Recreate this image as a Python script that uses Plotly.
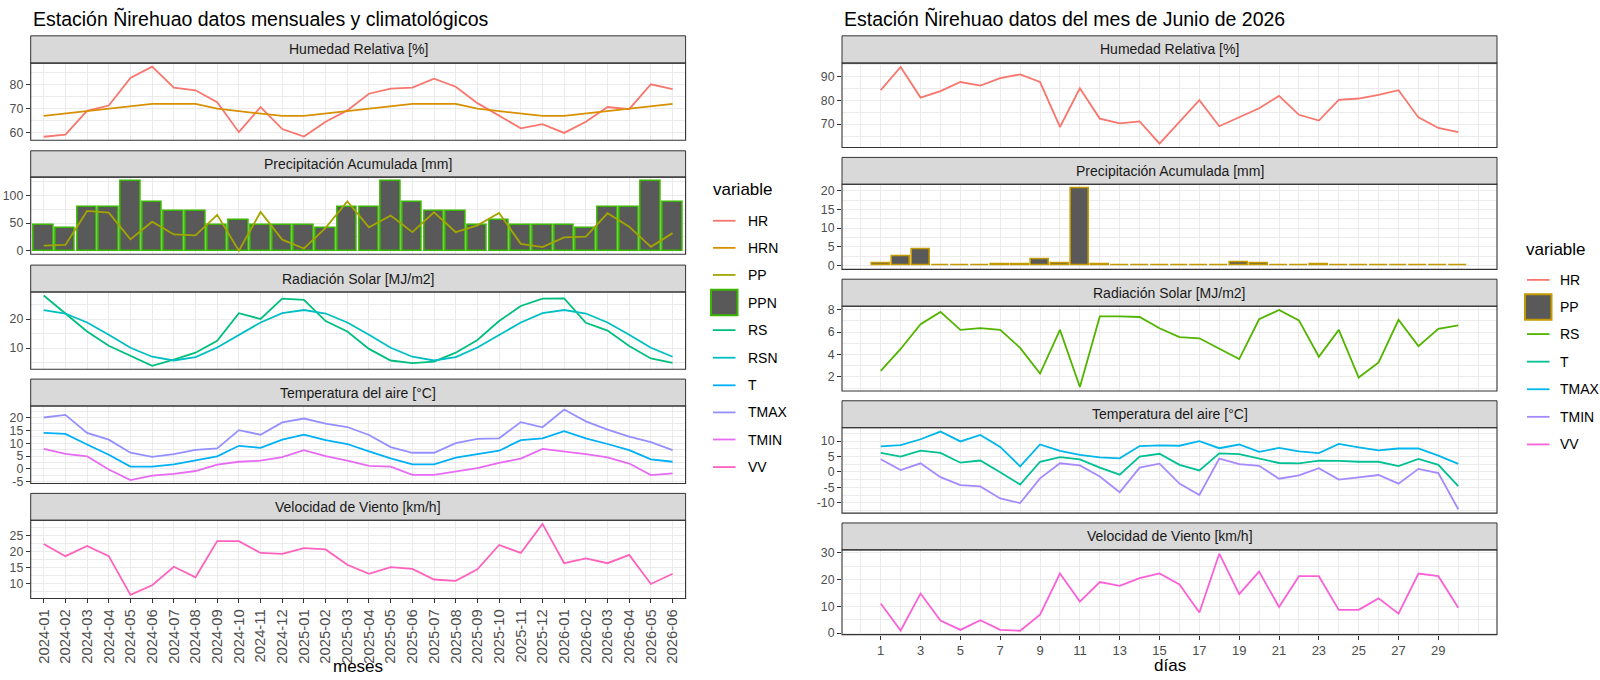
import plotly.graph_objects as go

W, H = 1600, 680

# ---------------- data: monthly / climatological (left) ----------------
months = ["2024-01", "2024-02", "2024-03", "2024-04", "2024-05", "2024-06",
          "2024-07", "2024-08", "2024-09", "2024-10", "2024-11", "2024-12",
          "2025-01", "2025-02", "2025-03", "2025-04", "2025-05", "2025-06",
          "2025-07", "2025-08", "2025-09", "2025-10", "2025-11", "2025-12",
          "2026-01", "2026-02", "2026-03", "2026-04", "2026-05", "2026-06"]
HR_m = [58.4, 59.3, 69.1, 71.3, 82.7, 87.4, 78.7, 77.6, 72.7, 60.3, 70.7, 61.6,
        58.5, 64.6, 69.3, 76.2, 78.3, 78.7, 82.4, 79.1, 72.3, 67.2, 61.9, 63.6,
        60.0, 64.6, 70.7, 69.8, 80.1, 78.1]
HRN_m = [67, 68, 69, 70, 71, 72, 72, 72, 70, 69, 68, 67,
         67, 68, 69, 70, 71, 72, 72, 72, 70, 69, 68, 67,
         67, 68, 69, 70, 71, 72]
PP_m = [9.4, 10.6, 71.8, 68.8, 20.6, 52.4, 29.4, 27.6, 64.7, 0.0, 70.0, 20.0,
        4.1, 41.2, 88.8, 42.4, 63.5, 33.5, 69.4, 33.5, 45.9, 68.2, 12.4, 6.5,
        24.1, 25.3, 67.6, 43.5, 7.1, 31.8]
PPN_m = [47, 40, 79, 79, 126.5, 87, 71, 71, 47, 55, 47, 47,
         47, 40, 79, 79, 126.5, 87, 71, 71, 47, 55, 47, 47,
         47, 40, 79, 79, 126.5, 87]
RS_m = [28.1, 21.9, 15.7, 10.8, 7.3, 3.9, 6.0, 8.4, 12.5, 22.0, 20.0, 27.0,
        26.6, 19.3, 15.7, 9.7, 5.7, 4.8, 5.3, 8.4, 12.8, 19.3, 24.5, 27.0,
        27.1, 18.7, 16.0, 10.7, 6.4, 4.9]
RSN_m = [23.1, 21.9, 18.8, 14.6, 10.1, 7.0, 5.7, 6.9, 10.2, 14.5, 18.8, 22.0,
         23.1, 21.9, 18.8, 14.6, 10.1, 7.0, 5.7, 6.9, 10.2, 14.5, 18.8, 22.0,
         23.1, 21.9, 18.8, 14.6, 10.1, 7.0]
T_m = [14.0, 13.6, 9.5, 5.5, 0.9, 0.9, 1.8, 3.3, 4.9, 9.0, 8.2, 11.4,
       13.3, 11.2, 9.7, 6.8, 4.1, 1.8, 1.8, 4.4, 5.8, 7.1, 11.2, 11.9,
       14.7, 11.9, 9.7, 7.3, 3.7, 2.8]
TMAX_m = [20.0, 21.0, 14.0, 11.4, 6.3, 4.7, 5.8, 7.4, 8.0, 15.1, 13.3, 18.1,
          19.6, 17.6, 16.3, 13.2, 8.5, 6.3, 6.3, 10.0, 11.7, 11.9, 18.2, 16.2,
          23.1, 18.5, 15.3, 12.6, 10.4, 7.3]
TMIN_m = [7.8, 5.9, 4.9, -0.2, -4.3, -2.6, -1.9, -0.8, 1.7, 2.8, 3.2, 4.6,
          7.3, 5.0, 3.2, 1.2, 0.9, -2.3, -2.3, -1.0, 0.3, 2.4, 4.0, 7.8,
          6.8, 5.8, 4.5, 2.1, -2.4, -1.7]
VV_m = [22.3, 18.5, 21.7, 18.5, 6.4, 9.4, 15.2, 11.9, 23.2, 23.2, 19.5, 19.2,
        21.0, 20.6, 15.8, 13.0, 15.1, 14.5, 11.2, 10.8, 14.4, 22.0, 19.5, 28.6,
        16.3, 17.8, 16.3, 18.9, 9.8, 13.0]

# ---------------- data: daily June 2026 (right) ----------------
days = list(range(1, 31))
HR_d = [84.2, 93.9, 81.1, 83.8, 87.6, 86.1, 89.2, 90.8, 87.6, 68.8, 85.0, 72.3,
        70.3, 71.1, 61.8, 70.7, 80.0, 69.1, 73.0, 76.6, 81.8, 73.9, 71.5, 80.1,
        80.7, 82.2, 84.2, 72.8, 68.4, 66.6]
PP_d = [0.6, 2.4, 4.3, 0.0, 0.0, 0.1, 0.2, 0.2, 1.6, 0.6, 20.7, 0.4,
        0.0, 0.0, 0.0, 0.0, 0.0, 0.1, 0.8, 0.6, 0.0, 0.0, 0.3, 0.1,
        0.1, 0.0, 0.0, 0.0, 0.0, 0.0]
RS_d = [2.55, 4.5, 6.7, 7.8, 6.2, 6.35, 6.2, 4.6, 2.3, 6.2, 1.1, 7.4,
        7.4, 7.35, 6.35, 5.55, 5.45, 4.5, 3.6, 7.15, 7.97, 7.05, 3.8, 6.2,
        1.95, 3.3, 7.1, 4.75, 6.3, 6.6]
T_d = [6.2, 5.0, 6.9, 6.2, 3.0, 3.7, -0.1, -4.1, 3.3, 4.8, 4.1, 1.4,
       -0.9, 5.0, 5.9, 2.3, 0.5, 6.0, 5.8, 4.4, 2.9, 2.8, 3.7, 3.6,
       3.3, 3.3, 1.9, 4.2, 2.3, -4.6]
TMAX_d = [8.3, 8.7, 10.6, 13.1, 9.9, 12.0, 8.1, 1.8, 8.9, 6.8, 5.5, 4.7,
          4.4, 8.4, 8.6, 8.5, 10.0, 7.7, 8.9, 6.5, 7.8, 6.7, 6.1, 9.1,
          8.0, 7.0, 7.6, 7.6, 5.3, 2.6]
TMIN_d = [4.1, 0.6, 2.8, -1.7, -4.3, -4.7, -8.6, -10.1, -2.1, 2.8, 2.1, -1.5,
          -6.6, 1.4, 2.7, -3.8, -7.5, 4.3, 2.5, 2.0, -2.2, -1.1, 1.2, -2.5,
          -1.8, -1.0, -3.8, 1.0, -0.4, -12.1]
VV_d = [11.1, 1.0, 14.8, 4.7, 1.2, 4.8, 1.2, 0.9, 6.9, 22.3, 11.8, 19.1,
        17.7, 20.6, 22.3, 18.2, 7.7, 29.7, 14.6, 23.0, 9.8, 21.3, 21.3, 8.7,
        8.7, 13.0, 7.3, 22.3, 21.3, 9.5]

strip_titles = ["Humedad Relativa [%]", "Precipitación Acumulada [mm]",
                "Radiación Solar [MJ/m2]", "Temperatura del aire [°C]",
                "Velocidad de Viento [km/h]"]
left_yticks = [[60, 70, 80], [0, 50, 100], [10, 20], [-5, 0, 5, 10, 15, 20], [10, 15, 20, 25]]
right_yticks = [[70, 80, 90], [0, 5, 10, 15, 20], [2, 4, 6, 8], [-10, -5, 0, 5, 10], [0, 10, 20, 30]]
day_ticks = list(range(1, 30, 2))

# ggplot hue palettes
colL = {"HR": "#F8766D", "HRN": "#D89000", "PP": "#A3A500", "PPN": "#39B600",
        "RS": "#00BF7D", "RSN": "#00BFC4", "T": "#00B0F6", "TMAX": "#9590FF",
        "TMIN": "#E76BF3", "VV": "#FF62BC"}
colR = {"HR": "#F8766D", "PP": "#C49A00", "RS": "#53B400", "T": "#00C094",
        "TMAX": "#00B6EB", "TMIN": "#A58AFF", "VV": "#FB61D7"}

# ---------------- layout geometry (pixels) ----------------
FONT = "Liberation Sans"
LX = (30.7, 685.6)
RX = (842.0, 1497.0)
LROWS = [(32.3, 60, 138.3), (149, 175.7, 254), (265, 292.3, 370.7),
         (380.7, 408, 486.7), (496.7, 524, 603.3)]
RROWS = [(32.3, 60, 145.7), (155.7, 183, 269.3), (279.3, 306.7, 392.7),
         (402.7, 430, 516.7), (526.7, 554, 640)]
GRID = "#EBEBEB"
DARK = "#333333"
LW = 1.8


def fx(p):
    return p / W


def fy(p):
    return 1 - p / H


def expand(vals, frac=0.05):
    lo, hi = min(vals), max(vals)
    pad = (hi - lo) * frac
    return [lo - pad, hi + pad]


def minor_of(ticks, rng):
    step = ticks[1] - ticks[0]
    ext = [ticks[0] - step] + list(ticks) + [ticks[-1] + step]
    mids = [(a + b) / 2 for a, b in zip(ext[:-1], ext[1:])]
    return [m for m in mids if rng[0] <= m <= rng[1]]


def fmt(v):
    return str(int(v)) if v >= 0 else "-" + str(int(-v))


fig = go.Figure()


def line(x, y, color, n):
    ax = "" if n == 1 else str(n)
    fig.add_trace(go.Scatter(x=x, y=y, mode="lines", line=dict(color=color, width=LW),
                             xaxis="x" + ax, yaxis="y" + ax, showlegend=False,
                             hoverinfo="skip"))


def bars(x, y, fill, border, n):
    ax = "" if n == 1 else str(n)
    fig.add_trace(go.Bar(x=x, y=y, width=0.9,
                         marker=dict(color=fill, line=dict(color=border, width=1.6)),
                         xaxis="x" + ax, yaxis="y" + ax, showlegend=False,
                         hoverinfo="skip"))


# left panels
line(months, HR_m, colL["HR"], 1)
line(months, HRN_m, colL["HRN"], 1)
bars(months, PPN_m, "#595959", colL["PPN"], 2)
line(months, PP_m, colL["PP"], 2)
line(months, RS_m, colL["RS"], 3)
line(months, RSN_m, colL["RSN"], 3)
line(months, T_m, colL["T"], 4)
line(months, TMAX_m, colL["TMAX"], 4)
line(months, TMIN_m, colL["TMIN"], 4)
line(months, VV_m, colL["VV"], 5)

# right panels
line(days, HR_d, colR["HR"], 6)
bars(days, PP_d, "#595959", colR["PP"], 7)
line(days, RS_d, colR["RS"], 8)
line(days, T_d, colR["T"], 9)
line(days, TMAX_d, colR["TMAX"], 9)
line(days, TMIN_d, colR["TMIN"], 9)
line(days, VV_d, colR["VV"], 10)

left_ranges = [expand(HR_m + HRN_m), expand(PP_m + PPN_m + [0]), expand(RS_m + RSN_m),
               expand(T_m + TMAX_m + TMIN_m), expand(VV_m)]
right_ranges = [expand(HR_d), expand(PP_d + [0]), expand(RS_d),
                expand(T_d + TMAX_d + TMIN_d), expand(VV_d)]

# x range of right panels: bars (width 0.9) + 5% expansion
dlo, dhi = min(days) - 0.45, max(days) + 0.45
dpad = (dhi - dlo) * 0.05
day_range = [dlo - dpad, dhi + dpad]
day_minor = [d for d in range(0, 33) if d % 2 == 0 or d == 31]
day_minor = [d for d in day_minor if day_range[0] <= d <= day_range[1]]

layout = dict(width=W, height=H, autosize=False,
              margin=dict(l=0, r=0, t=0, b=0),
              paper_bgcolor="white", plot_bgcolor="white",
              font=dict(family=FONT), bargap=0, showlegend=False)

shapes = []
annotations = []

for side in ("L", "R"):
    rows = LROWS if side == "L" else RROWS
    xs = LX if side == "L" else RX
    for i, (st, pt, pb) in enumerate(rows):
        n = i + 1 if side == "L" else i + 6
        key = "" if n == 1 else str(n)
        bottom = (i == 4)
        if side == "L":
            xa = dict(type="category", range=[-0.6, len(months) - 0.4],
                      showgrid=True, gridcolor=GRID, gridwidth=1.1,
                      tickmode="array", tickvals=months, ticktext=months,
                      showticklabels=bottom, tickangle=-90,
                      ticks="outside" if bottom else "", ticklen=4, tickcolor=DARK,
                      tickfont=dict(size=14.8, color="#4D4D4D", family=FONT),
                      zeroline=False, showline=False)
            yt = left_yticks[i]
            yr = left_ranges[i]
        else:
            xa = dict(type="linear", range=day_range,
                      showgrid=True, gridcolor=GRID, gridwidth=1.1,
                      tickmode="array", tickvals=day_ticks,
                      ticktext=[str(d) for d in day_ticks],
                      minor=dict(tickmode="array", tickvals=day_minor, showgrid=True,
                                 gridcolor=GRID, gridwidth=0.55, ticks=""),
                      showticklabels=bottom,
                      ticks="outside" if bottom else "", ticklen=4, tickcolor=DARK,
                      tickfont=dict(size=13, color="#4D4D4D", family=FONT),
                      zeroline=False, showline=False)
            yt = right_yticks[i]
            yr = right_ranges[i]
        xa["domain"] = [fx(xs[0]), fx(xs[1])]
        xa["anchor"] = "y" + key
        ya = dict(domain=[fy(pb), fy(pt)], anchor="x" + key, range=yr,
                  tickmode="array", tickvals=yt, ticktext=[fmt(v) for v in yt],
                  showgrid=True, gridcolor=GRID, gridwidth=1.1,
                  minor=dict(tickmode="array", tickvals=minor_of(yt, yr), showgrid=True,
                             gridcolor=GRID, gridwidth=0.55, ticks=""),
                  ticks="outside", ticklen=4, tickcolor=DARK,
                  tickfont=dict(size=12.3, color="#4D4D4D", family=FONT),
                  zeroline=False, showline=False)
        layout["xaxis" + key] = xa
        layout["yaxis" + key] = ya
        # strip
        shapes.append(dict(type="rect", xref="paper", yref="paper",
                           x0=fx(xs[0]), x1=fx(xs[1]), y0=fy(pt), y1=fy(st),
                           fillcolor="#D9D9D9", line=dict(color=DARK, width=1),
                           layer="above"))
        annotations.append(dict(xref="paper", yref="paper",
                                x=fx((xs[0] + xs[1]) / 2), y=fy((st + pt) / 2),
                                text=strip_titles[i], showarrow=False,
                                xanchor="center", yanchor="middle",
                                font=dict(size=14, color="#1A1A1A", family=FONT)))
        # panel border
        shapes.append(dict(type="rect", xref="paper", yref="paper",
                           x0=fx(xs[0]), x1=fx(xs[1]), y0=fy(pb), y1=fy(pt),
                           fillcolor="rgba(0,0,0,0)", line=dict(color=DARK, width=1.1),
                           layer="above"))

# titles
annotations.append(dict(xref="paper", yref="paper", x=fx(LX[0]), y=fy(1.5),
                        text="Estación Ñirehuao datos mensuales y climatológicos",
                        showarrow=False, xanchor="left", yanchor="top",
                        font=dict(size=19.5, color="black", family=FONT)))
annotations.append(dict(xref="paper", yref="paper", x=fx(RX[0]), y=fy(1.5),
                        text="Estación Ñirehuao datos del mes de Junio de 2026",
                        showarrow=False, xanchor="left", yanchor="top",
                        font=dict(size=19.5, color="black", family=FONT)))
# axis titles
annotations.append(dict(xref="paper", yref="paper", x=fx((LX[0] + LX[1]) / 2), y=fy(672.5),
                        text="meses", showarrow=False, xanchor="center", yanchor="middle",
                        font=dict(size=17, color="black", family=FONT)))
annotations.append(dict(xref="paper", yref="paper", x=fx((RX[0] + RX[1]) / 2), y=fy(671.5),
                        text="días", showarrow=False, xanchor="center", yanchor="middle",
                        font=dict(size=17, color="black", family=FONT)))


# legends (drawn as keys + text)
def legend(x_title, y_title, x_key, x_text, ys, names, cols, bar_name, bar_border):
    annotations.append(dict(xref="paper", yref="paper", x=fx(x_title), y=fy(y_title),
                            text="variable", showarrow=False, xanchor="left",
                            yanchor="middle", font=dict(size=17, color="black", family=FONT)))
    for yy, nm in zip(ys, names):
        if nm == bar_name:
            shapes.append(dict(type="rect", xref="paper", yref="paper",
                               x0=fx(x_key - 2), x1=fx(x_key + 24.5),
                               y0=fy(yy + 13), y1=fy(yy - 13),
                               fillcolor="#595959", line=dict(color=bar_border, width=2)))
        else:
            shapes.append(dict(type="line", xref="paper", yref="paper",
                               x0=fx(x_key), x1=fx(x_key + 22.5), y0=fy(yy), y1=fy(yy),
                               line=dict(color=cols[nm], width=LW)))
        annotations.append(dict(xref="paper", yref="paper", x=fx(x_text), y=fy(yy),
                                text=nm, showarrow=False, xanchor="left", yanchor="middle",
                                font=dict(size=14, color="black", family=FONT)))


namesL = ["HR", "HRN", "PP", "PPN", "RS", "RSN", "T", "TMAX", "TMIN", "VV"]
ysL = [220, 247.5, 275, 303, 331, 359, 387, 414.5, 442, 470]
legend(710.7, 188, 713, 746, ysL, namesL, colL, "PPN", colL["PPN"])

namesR = ["HR", "PP", "RS", "T", "TMAX", "TMIN", "VV"]
ysR = [280, 307.5, 335, 363, 391, 419, 447]
legend(1524, 249, 1527, 1558, ysR, namesR, colR, "PP", colR["PP"])

layout["shapes"] = shapes
layout["annotations"] = annotations
fig.update_layout(**layout)

fig.write_html("out.html",
               config={"displayModeBar": False},
               post_script="document.body.style.margin='0px';"
                           "document.body.style.overflow='hidden';")
